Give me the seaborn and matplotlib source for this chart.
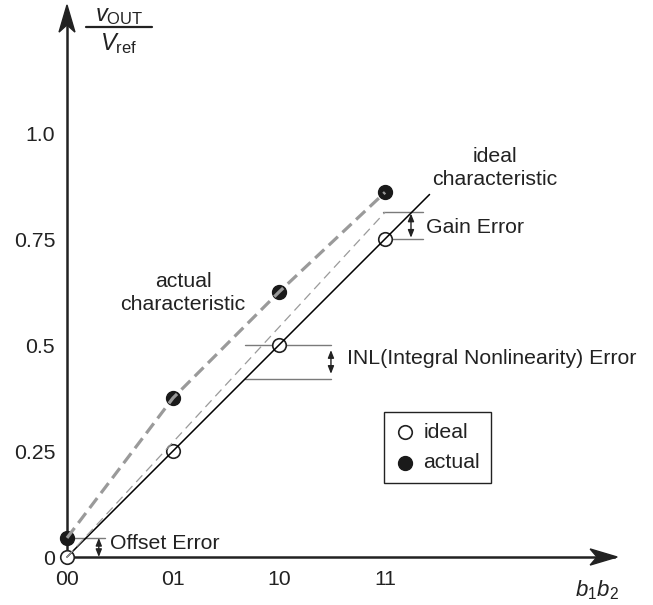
import matplotlib
matplotlib.use('Agg')
import matplotlib.pyplot as plt
import seaborn as sns
import pandas as pd
from matplotlib.patches import Polygon

# ---- data ----
codes = ['00', '01', '10', '11']
ideal = [0.0, 0.25, 0.5, 0.75]
actual = [0.045, 0.375, 0.625, 0.86]
y_ticks = [0.0, 0.25, 0.5, 0.75, 1.0]
y_tick_labels = ['0', '0.25', '0.5', '0.75', '1.0']
ideal_line_x = [0.0, 3.42]        # ideal characteristic extends past code 11
ideal_line_y = [0.0, 0.855]
gain_line_x = [0.0, 3.0]          # thin dashed (gain-error) line
gain_line_y = [0.0, 0.813]
inl_low = 0.42

INK = '#222222'
GRAY = '#9a9a9a'
FS = 15.3

sns.set_style('white')
plt.rcParams['font.family'] = ['Liberation Sans', 'DejaVu Sans']
plt.rcParams['mathtext.fontset'] = 'custom'
plt.rcParams['mathtext.rm'] = 'Liberation Sans'
plt.rcParams['mathtext.it'] = 'Liberation Sans:italic'
plt.rcParams['lines.scale_dashes'] = False

fig = plt.figure(figsize=(6.53, 6.05), dpi=100)
ax = fig.add_axes([0, 0, 1, 1])
ax.set_xlim(-0.632, 5.528)
ax.set_ylim(-0.1132, 1.3137)

pos = list(range(len(codes)))
df = pd.DataFrame({'pos': pos, 'ideal': ideal, 'actual': actual})

# points
sns.scatterplot(data=df, x='pos', y='ideal', ax=ax, s=95, color='white',
                edgecolor=INK, linewidth=1.2, zorder=2, label='ideal')
sns.scatterplot(data=df, x='pos', y='actual', ax=ax, s=100, color='#1a1a1a',
                edgecolor='#1a1a1a', linewidth=1.0, zorder=2, label='actual')

# lines
sns.lineplot(x=ideal_line_x, y=ideal_line_y, ax=ax, color='black', lw=1.1,
             zorder=3, label='_nolegend_')
sns.lineplot(x=gain_line_x, y=gain_line_y, ax=ax, color=GRAY, lw=0.9,
             zorder=3, label='_nolegend_')
ax.lines[-1].set_dashes((6.5, 4.0))
sns.lineplot(data=df, x='pos', y='actual', ax=ax, color=GRAY, lw=2.3,
             zorder=3, label='_nolegend_')
ax.lines[-1].set_dashes((9.0, 4.5))

# axes (spines through origin)
for s in ['top', 'right']:
    ax.spines[s].set_visible(False)
ax.spines['left'].set_position(('data', 0))
ax.spines['bottom'].set_position(('data', 0))
ax.spines['left'].set_bounds(0, 1.29)
ax.spines['bottom'].set_bounds(0, 5.16)
for s in ['left', 'bottom']:
    ax.spines[s].set_linewidth(1.8)
    ax.spines[s].set_color(INK)
    ax.spines[s].set_zorder(1)

ax.set_xticks(pos)
ax.set_xticklabels(codes)
ax.set_yticks(y_ticks)
ax.set_yticklabels(y_tick_labels)
ax.tick_params(axis='both', direction='inout', length=9, width=1.5,
               colors=INK, labelsize=FS, labelcolor=INK)
ax.tick_params(axis='x', pad=5)
ax.tick_params(axis='y', pad=4)
ax.xaxis.get_major_ticks()[0].tick1line.set_visible(False)
ax.yaxis.get_major_ticks()[0].tick1line.set_visible(False)
ax.set_xlabel('')
ax.set_ylabel('')

# arrow heads of the axes (stealth shape)
xt = 5.19
ax.add_patch(Polygon([(xt, 0), (xt - 0.255, 0.019), (xt - 0.19, 0),
                      (xt - 0.255, -0.019)], closed=True, color=INK, zorder=4))
yt = 1.302
ax.add_patch(Polygon([(0, yt), (0.075, yt - 0.064), (0, yt - 0.047),
                      (-0.075, yt - 0.064)], closed=True, color=INK, zorder=4))

# axis labels
ax.text(0.49, 1.275, r'$v_{\mathrm{OUT}}$', fontsize=17, ha='center',
        va='center', color=INK)
ax.plot([0.18, 0.80], [1.25, 1.25], color=INK, lw=1.6)
ax.text(0.49, 1.212, r'$V_{\mathrm{ref}}$', fontsize=17, ha='center',
        va='center', color=INK)
ax.text(5.0, -0.078, r'$b_1b_2$', fontsize=16, ha='center', va='center',
        color=INK)

# annotations
ax.text(1.094, 0.623, 'actual\ncharacteristic', fontsize=FS, ha='center',
        va='center', linespacing=1.3, color=INK)
ax.text(4.038, 0.917, 'ideal\ncharacteristic', fontsize=FS, ha='center',
        va='center', linespacing=1.3, color=INK)

ref_gray = '#7a7a7a'
# gain error
ax.plot([2.98, 3.36], [gain_line_y[1]] * 2, color=ref_gray, lw=1.0, zorder=1)
ax.plot([3.0, 3.36], [ideal[3]] * 2, color=ref_gray, lw=1.0, zorder=1)
arrow = dict(arrowstyle='<|-|>,head_length=0.45,head_width=0.18', color=INK,
             lw=1.0, shrinkA=0, shrinkB=0, mutation_scale=10)
ax.annotate('', xy=(3.245, ideal[3] + 0.003), xytext=(3.245, gain_line_y[1] - 0.003),
            arrowprops=arrow)
ax.text(3.387, 0.778, 'Gain Error', fontsize=FS, ha='left', va='center',
        color=INK)

# INL error
ax.plot([1.68, 2.49], [ideal[2]] * 2, color=ref_gray, lw=1.0, zorder=1)
ax.plot([1.68, 2.49], [inl_low] * 2, color=ref_gray, lw=1.0, zorder=1)
ax.annotate('', xy=(2.49, inl_low + 0.012), xytext=(2.49, ideal[2] - 0.012),
            arrowprops=arrow)
ax.text(2.642, 0.467, 'INL(Integral Nonlinearity) Error', fontsize=FS,
        ha='left', va='center', color=INK)

# offset error
ax.plot([0.0, 0.36], [actual[0]] * 2, color=ref_gray, lw=1.0, zorder=1)
ax.annotate('', xy=(0.30, 0.0), xytext=(0.30, actual[0]), arrowprops=arrow)
ax.text(0.406, 0.033, 'Offset Error', fontsize=FS, ha='left', va='center',
        color=INK)

# legend
h, l = ax.get_legend_handles_labels()
keep = [(hh, ll) for hh, ll in zip(h, l) if ll in ('ideal', 'actual')]
leg = ax.legend([k[0] for k in keep], [k[1] for k in keep], loc='upper left',
                bbox_to_anchor=(384 / 653, 1 - 412 / 605),
                bbox_transform=fig.transFigure, borderaxespad=0,
                frameon=True, fancybox=False, edgecolor=INK, framealpha=1,
                borderpad=0.5, labelspacing=0.55, handlelength=1.0,
                handletextpad=0.35, fontsize=FS, scatterpoints=1)
leg.get_frame().set_linewidth(1.0)
for t in leg.get_texts():
    t.set_color(INK)

fig.savefig('out.png', dpi=100)
